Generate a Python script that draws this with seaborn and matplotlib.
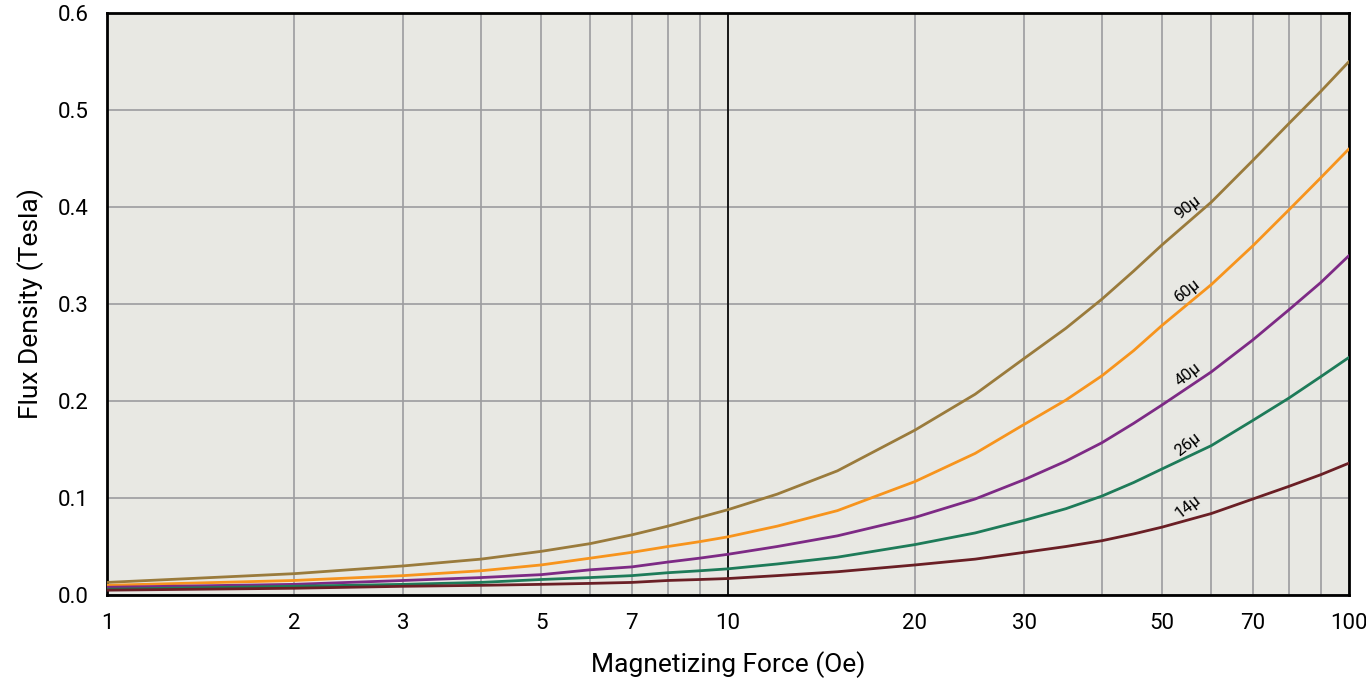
import pandas as pd
import numpy as np
import matplotlib.pyplot as plt
import seaborn as sns
from matplotlib.ticker import FixedLocator, NullFormatter, FixedFormatter

# values
force = [1, 2, 3, 4, 5, 6, 7, 8, 9, 10, 12, 15, 20, 25, 30, 35, 40, 45, 50, 60, 70, 80, 90, 100]
b_90 = [0.013, 0.022, 0.030, 0.037, 0.045, 0.053, 0.062, 0.071, 0.080, 0.088, 0.104, 0.128, 0.170, 0.207,
        0.244, 0.275, 0.305, 0.334, 0.361, 0.405, 0.448, 0.486, 0.519, 0.550]
b_60 = [0.010, 0.015, 0.020, 0.025, 0.031, 0.038, 0.044, 0.050, 0.055, 0.060, 0.071, 0.087, 0.117, 0.146,
        0.176, 0.201, 0.226, 0.252, 0.278, 0.320, 0.360, 0.397, 0.430, 0.460]
b_40 = [0.008, 0.011, 0.015, 0.018, 0.021, 0.026, 0.029, 0.034, 0.038, 0.042, 0.050, 0.061, 0.080, 0.099,
        0.119, 0.138, 0.157, 0.177, 0.196, 0.230, 0.263, 0.294, 0.322, 0.350]
b_26 = [0.006, 0.009, 0.011, 0.013, 0.016, 0.018, 0.020, 0.023, 0.025, 0.027, 0.032, 0.039, 0.052, 0.064,
        0.077, 0.089, 0.102, 0.116, 0.130, 0.154, 0.180, 0.203, 0.225, 0.245]
b_14 = [0.005, 0.007, 0.009, 0.010, 0.011, 0.012, 0.013, 0.015, 0.016, 0.017, 0.020, 0.024, 0.031, 0.037,
        0.044, 0.050, 0.056, 0.063, 0.070, 0.084, 0.099, 0.112, 0.124, 0.136]

materials = ['90μ', '60μ', '40μ', '26μ', '14μ']
colors = ['#9a7b3c', '#f7941d', '#7d2a85', '#1e7b59', '#6a1f25']
label_y = [0.400, 0.314, 0.227, 0.155, 0.091]
label_x = 55

xticks = [1, 2, 3, 5, 7, 10, 20, 30, 50, 70, 100]

rows = []
for name, vals in zip(materials, [b_90, b_60, b_40, b_26, b_14]):
    for h, b in zip(force, vals):
        rows.append({'H': h, 'B': b, 'mat': name})
df = pd.DataFrame(rows)

sns.set_style('white')
plt.rcParams['font.family'] = ['Roboto', 'DejaVu Sans']
plt.rcParams['text.color'] = 'black'
plt.rcParams['axes.labelcolor'] = 'black'
plt.rcParams['xtick.color'] = 'black'
plt.rcParams['ytick.color'] = 'black'

fig = plt.figure(figsize=(13.66, 6.83), dpi=100)
ax = fig.add_axes([0.0783, 0.1288, 0.9093, 0.8522])
ax.set_facecolor('#e8e8e3')

sns.lineplot(data=df, x='H', y='B', hue='mat', palette=dict(zip(materials, colors)),
             linewidth=2, legend=False, ax=ax, zorder=3)

ax.set_xscale('log')
ax.set_xlim(1, 100)
ax.set_ylim(0, 0.6)

minor = [v * d for d in (1, 10) for v in range(2, 10)]
ax.xaxis.set_major_locator(FixedLocator(xticks))
ax.xaxis.set_major_formatter(FixedFormatter([str(t) for t in xticks]))
ax.xaxis.set_minor_locator(FixedLocator(minor))
ax.xaxis.set_minor_formatter(NullFormatter())
ax.tick_params(axis='x', which='minor', length=0)
ax.set_yticks([0, 0.1, 0.2, 0.3, 0.4, 0.5, 0.6])
ax.set_yticklabels(['0.0', '0.1', '0.2', '0.3', '0.4', '0.5', '0.6'])

ax.grid(True, which='both', axis='x', color='#9c9c9f', linewidth=1.2, zorder=1)
ax.grid(True, which='major', axis='y', color='#9c9c9f', linewidth=1.2, zorder=1)
ax.set_axisbelow(True)
ax.axvline(10, color='black', linewidth=1.2, zorder=2)

for s in ax.spines.values():
    s.set_color('black')
    s.set_linewidth(2)

ax.tick_params(axis='both', which='major', direction='out', length=8, width=1.5,
               color='black', labelsize=16, pad=5)

ax.set_xlabel('Magnetizing Force (Oe)', fontsize=19, labelpad=12)
ax.set_ylabel('Flux Density (Tesla)', fontsize=19, labelpad=10)

for name, y in zip(materials, label_y):
    ax.text(label_x, y, name, rotation=38, fontsize=12, ha='center', va='center', zorder=4)

fig.savefig('out.png', dpi=100)
